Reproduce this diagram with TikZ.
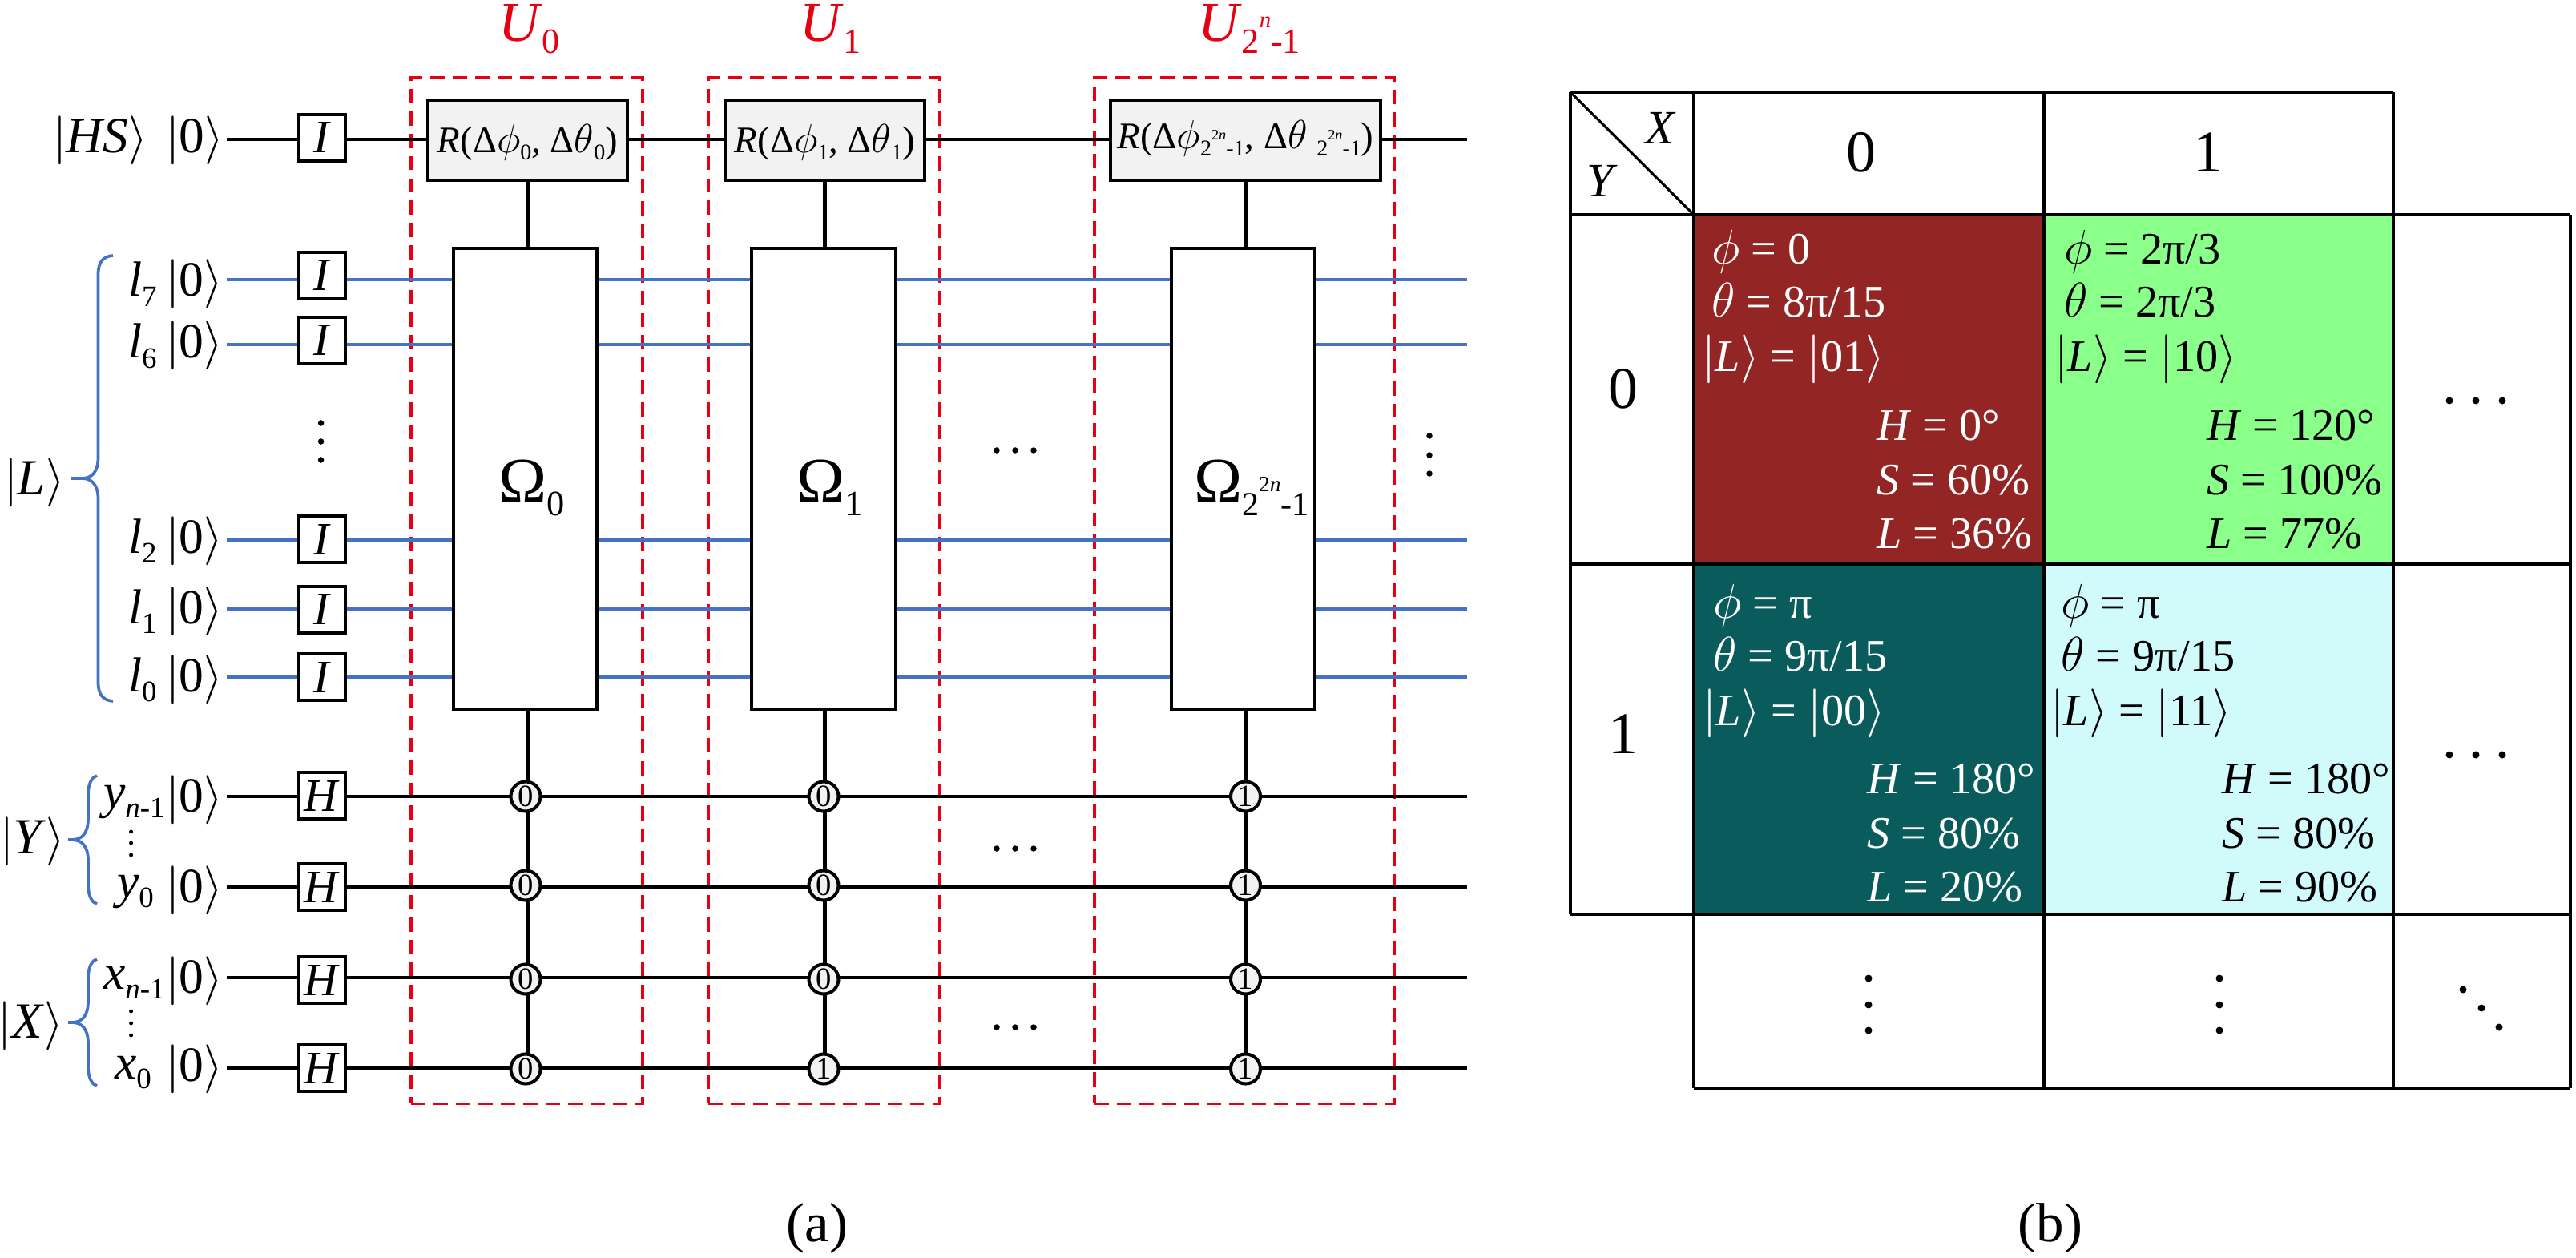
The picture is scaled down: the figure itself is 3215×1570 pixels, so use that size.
\documentclass[tikz,border=0pt]{standalone}
\usepackage{fontspec}
\setmainfont{Liberation Serif}
\usetikzlibrary{positioning}
\definecolor{wireblue}{HTML}{4472C4}
\definecolor{dashred}{HTML}{E60012}
\definecolor{boxgray}{HTML}{F2F2F2}
\definecolor{cellred}{HTML}{932525}
\definecolor{cellgreen}{HTML}{8AFF8A}
\definecolor{cellteal}{HTML}{0A5C5C}
\definecolor{cellcyan}{HTML}{D1FAFA}
\newcommand{\fs}[1]{\fontsize{#1}{#1}\selectfont}
\newcommand{\subt}[2][.6]{\raisebox{-.2em}{\scalebox{#1}{#2}}}
\newcommand{\ketq}[1]{$|$#1$\rangle$}
\newcommand{\powtwo}{2\raisebox{.72em}{\scalebox{.65}{\textit{n}}}-1}
\newcommand{\powtwon}{2\raisebox{.7em}{\scalebox{.65}{2\textit{n}}}-1}
\newcommand{\bracepath}[6]{% tip x, spine x, end x, top, middle, bottom
  \draw[brace] (#3,#4) .. controls (#2+6,#4+1) and (#2,#4+8) .. (#2,#4+24)
    -- (#2,#5-26) .. controls (#2,#5-8) and (#2-8,#5) .. (#2-20,#5) -- (#1,#5);
  \draw[brace] (#2-20,#5) .. controls (#2-8,#5) and (#2,#5+8) .. (#2,#5+26)
    -- (#2,#6-24) .. controls (#2,#6-8) and (#2+6,#6-1) .. (#3,#6);}
\tikzset{
  every picture/.style={x=0.01cm, y=-0.01cm},
  every node/.style={inner sep=0pt, outer sep=0pt},
  wire/.style={line width=1.3pt},
  brace/.style={wireblue, line width=1.05pt},
  tline/.style={line width=0.9pt},
  hline/.style={line width=1.2pt},
  txt/.style={anchor=base west}}

\begin{document}
\begin{tikzpicture}
    \tikzstyle{gate}=[draw, fill=white, line width=1.15pt, minimum size=0.58cm, font=\fs{16.5}]
    \tikzstyle{rbox}=[draw, fill=boxgray, line width=1.15pt, minimum height=1cm, font=\fs{13.3}]
    \tikzstyle{omega}=[draw, fill=white, line width=1.15pt, minimum height=5.75cm]
    \tikzstyle{ctrl}=[draw, circle, fill=boxgray, line width=1.15pt, minimum size=0.37cm, font=\fs{11}]
    \tikzstyle{redbox}=[draw=dashred, line width=1pt, dash pattern=on 5.1pt off 2.85pt, minimum height=12.8cm]
    \tikzstyle{celltxt}=[txt, font=\fs{16}]
    \tikzstyle{dotn}=[circle, fill, minimum size=0.075cm]
    \tikzstyle{dotl}=[circle, fill, minimum size=0.09cm]
    \tikzstyle{dots}=[circle, fill, minimum size=0.05cm]

    \useasboundingbox (0,0) rectangle (3215,1570);

    % dashed frames
    \node[redbox, minimum width=2.89cm] (F0) at (657.5,737) {};
    \node[redbox, minimum width=2.89cm] (F1) at (1028.5,737) {};
    \node[redbox, minimum width=3.74cm] (F2) at (1553,737) {};

    \node[txt, dashred, font=\fs{20}] (U0) at (622,52) {\textit{U}\subt[.63]{0}};
    \node[txt, dashred, font=\fs{20}] (U1) at (998,52) {\textit{U}\subt[.63]{1}};
    \node[txt, dashred, font=\fs{20}] (U2) at (1495,52) {\textit{U}\subt[.63]{\powtwo}};

    % wires and their labels
    \foreach \nm/\wy/\wc/\lx/\lb/\ltx/\kb in {
        l7/349/wireblue/160/370/{\textit{l}\subt{7}}/370,
        l6/430/wireblue/160/447/{\textit{l}\subt{6}}/447,
        l2/674/wireblue/160/690/{\textit{l}\subt{2}}/690,
        l1/760/wireblue/160/778/{\textit{l}\subt{1}}/778,
        l0/845/wireblue/160/863/{\textit{l}\subt{0}}/863,
        ya/994/black/129/1008/{\textit{y}\subt{\textit{n}-1}}/1013,
        yb/1107/black/146/1120/{\textit{y}\subt{0}}/1126,
        xa/1220/black/129/1234/{\textit{x}\subt{\textit{n}-1}}/1239,
        xb/1333/black/143/1346/{\textit{x}\subt{0}}/1349}
    {
      \coordinate (s\nm) at (283,\wy);
      \coordinate (e\nm) at (1831,\wy);
      \draw[wire, \wc] (s\nm) -- (e\nm);
      \node[txt, font=\fs{17.5}] (t\nm) at (\lx,\lb) {\ltx};
      \node[txt, font=\fs{17.5}] (k\nm) at (207,\kb) {\ketq{0}};
    }
    \coordinate (shs) at (283,174);
    \coordinate (ehs) at (1831,174);
    \draw[wire] (shs) -- (ehs);
    \node[txt, font=\fs{18}] (ths) at (66,191) {\ketq{\textit{HS}}};
    \node[txt, font=\fs{18}] (khs) at (207,191) {\ketq{0}};

    % gates in front of the wires
    \foreach \nm/\gy/\gl in {hs/172/I, l7/344/I, l6/425/I, l2/673/I, l1/761/I, l0/845/I,
        ya/993/H, yb/1107/H, xa/1223/H, xb/1333/H}
      \node[gate] (g\nm) at (402,\gy) {\textit{\gl}};

    % one column per block
    \foreach \col/\rx/\rw/\ox/\cx/\ba/\bb/\bc/\bd/\rdrop/\rtxt in {
        0/658.5/2.49cm/655.5/656/0/0/0/0/4.3pt/{\textit{R}(Δ$\phi$\subt{0}, Δ$\theta$\subt{0})},
        1/1029.5/2.49cm/1028/1028/0/0/0/1/4.3pt/{\textit{R}(Δ$\phi$\subt{1}, Δ$\theta$\subt{1})},
        2/1554.5/3.37cm/1551.5/1554.5/1/1/1/1/2.85pt/{\textit{R}(Δ$\phi$\subt{\powtwon}, Δ$\theta$ \subt{\powtwon})}}
    {
      \node[rbox, minimum width=\rw] (R\col) at (\rx,175) {\raisebox{-\rdrop}[0pt][0pt]{\rtxt}};
      \node[omega, minimum width=1.79cm] (Om\col) at (\ox,597.5) {};
      \draw[wire] (R\col.south) -- (R\col.south |- Om\col.north);
      \coordinate (v\col) at (R\col.south |- 0,1334);
      \draw[wire] (R\col.south |- Om\col.south) -- (v\col);
      \node[ctrl] (c\col a) at (\cx,994) {\ba};
      \node[ctrl] (c\col b) at (\cx,1105) {\bb};
      \node[ctrl] (c\col c) at (\cx,1222) {\bc};
      \node[ctrl] (c\col d) at (\cx,1334) {\bd};
    }

    \node[txt, font=\fs{23}] (W0) at (622,627) {Ω\subt[.55]{0}};
    \node[txt, font=\fs{23}] (W1) at (994,627) {Ω\subt[.55]{1}};
    \node[txt, font=\fs{23}] (W2) at (1490,627) {Ω\subt[.52]{\powtwon}};

    % braces
    \bracepath{88}{122.5}{141}{319}{597}{875}
    \bracepath{85}{110}{121}{968}{1048}{1128}
    \bracepath{85}{110}{121}{1197}{1276}{1355}
    \node[txt, font=\fs{18}] (ketL) at (5,617) {\ketq{\textit{L}}};
    \node[txt, font=\fs{18}] (ketY) at (0,1065) {\ketq{\textit{Y}}};
    \node[txt, font=\fs{18}] (ketX) at (-2,1295) {\ketq{\textit{X}}};

    % dots of the circuit
    \foreach \nm/\px/\py in {a/400.6/528, b/400.6/551, c/400.6/574, d/1784/544, e/1784/568, f/1784/591,
        g/1244/562, h/1267/562, i/1290/562, j/1244/1059, k/1267/1059, l/1290/1059,
        m/1244/1282, n/1267/1282, o/1290/1282}
      \node[dotn] (d\nm) at (\px,\py) {};
    \foreach \nm/\px/\py in {a/163.6/1038, b/163.6/1052, c/163.6/1067, d/163.6/1262, e/163.6/1277, f/163.6/1292}
      \node[dots] (s\nm) at (\px,\py) {};

    \node[font=\fs{19.6}] (capa) at (1020,1533) {(a)};
    \node[font=\fs{19.6}] (capb) at (2559,1533) {(b)};

    % table
    \fill[cellred] (2114,268) rectangle (2551,704);
    \fill[cellgreen] (2551,268) rectangle (2987,704);
    \fill[cellteal] (2114,704) rectangle (2551,1141);
    \fill[cellcyan] (2551,704) rectangle (2987,1141);
    \foreach \xa/\xb/\yy in {1960/2987/115, 1960/3208/268, 1960/3208/704, 1960/3208/1141, 2114/3208/1358}
      \draw[hline] (\xa,\yy) -- (\xb,\yy);
    \foreach \xx/\ya/\yb in {1960/115/1141, 2114/115/1358, 2551/115/1358, 2987/115/1358, 3208/268/1358}
      \draw[tline] (\xx,\ya) -- (\xx,\yb);
    \draw[tline] (1960,115) -- (2114,268);

    \node[font=\fs{17}\itshape] (hX) at (2072,160) {X};
    \node[font=\fs{17}\itshape] (hY) at (1997,226) {Y};
    \node[font=\fs{21}] (h0) at (2323,190) {0};
    \node[font=\fs{21}] (h1) at (2756,190) {1};
    \node[font=\fs{21}] (r0) at (2026,485) {0};
    \node[font=\fs{21}] (r1) at (2026,916) {1};

    \foreach \nm/\tc/\xp/\xk/\xh/\ya/\ph/\th/\kt/\hh/\ss/\ll in {
        a/white/2136/2124/2342/0/0/{8π/15}/01/0/60/36,
        b/black/2576/2564/2754/0/{2π/3}/{2π/3}/10/120/100/77,
        c/white/2138/2125/2330/1/π/{9π/15}/00/180/80/20,
        d/black/2572/2559/2773/1/π/{9π/15}/11/180/80/90}
    {
      \pgfmathsetmacro{\dy}{\ya*441}
      \node[celltxt, \tc] (p\nm) at (\xp,330+\dy) {$\phi$ = \ph};
      \node[celltxt, \tc] (q\nm) at (\xp,396+\dy) {$\theta$ = \th};
      \node[celltxt, \tc] (m\nm) at (\xk,464+\dy) {\ketq{\textit{L}} = \ketq{\kt}};
      \node[celltxt, \tc] (H\nm) at (\xh,549+\dy) {\textit{H} = \hh°};
      \node[celltxt, \tc] (S\nm) at (\xh,617+\dy) {\textit{S} = \ss\%};
      \node[celltxt, \tc] (L\nm) at (\xh,684+\dy) {\textit{L} = \ll\%};
    }

    % dots of the table
    \foreach \nm/\px/\py in {a/3057/500, b/3090/500, c/3123/500, d/3057/942, e/3090/942, f/3123/942,
        g/2332/1221, h/2332/1254, i/2332/1286, j/2770/1221, k/2770/1254, l/2770/1286,
        m/3074/1235, n/3097/1258, o/3119/1282}
      \node[dotl] (t\nm) at (\px,\py) {};
  \end{tikzpicture}
\end{document}
